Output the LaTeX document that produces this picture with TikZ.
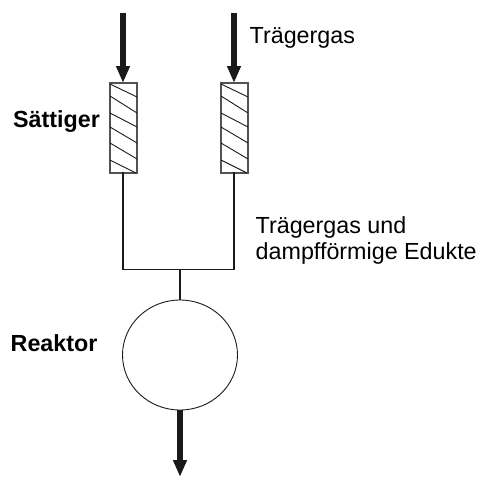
\documentclass[tikz,border=0pt]{standalone}
\usepackage{fontspec}
\setmainfont{Liberation Sans}
\usetikzlibrary{arrows.meta,shapes.geometric}
\definecolor{ink}{HTML}{1A1A1A}
\tikzset{
  x=1pt,y=-1pt,
  flow/.style={draw=ink,line width=5.5pt,-{Triangle[length=17pt,width=13pt,fill=ink]}},
  vessel/.style={draw=ink!75,line width=1.1pt,minimum width=27pt,minimum height=90pt,inner sep=0pt,outer sep=0pt},
  reactorshape/.style={ellipse,draw=ink,line width=0.9pt,minimum width=115pt,minimum height=110pt,inner sep=0pt,outer sep=0pt},
  hatch/.style={draw=ink,line width=0.9pt},
  pipe/.style={draw=ink,line width=1.5pt},
  lab/.style={anchor=base west,inner sep=0pt,font=\fontsize{23.3}{26}\selectfont},
  boldlab/.style={anchor=base west,inner sep=0pt,font=\fontsize{23.3}{26}\selectfont\bfseries}
}
\begin{document}
\begin{tikzpicture}
\useasboundingbox (0,0) rectangle (479,477);
\node[vessel] (s1) at (123.5,128) {};
\node[vessel] (s2) at (234.5,128) {};
\node[reactorshape] (r) at (180,355) {};
\coordinate (j1) at (123,269.5);
\coordinate (j2) at (234,269.5);
\coordinate (jm) at (180,269.5);
\coordinate (in1) at (123,13);
\coordinate (in2) at (234,13);
\coordinate (out) at (180,477);
\foreach \dx in {0,111}{
  \draw[hatch] (110+\dx,84) -- (137+\dx,97);
  \draw[hatch] (110+\dx,96) -- (137+\dx,113);
  \draw[hatch] (110+\dx,113) -- (137+\dx,127);
  \draw[hatch] (110+\dx,127) -- (137+\dx,143);
  \draw[hatch] (110+\dx,143) -- (137+\dx,159);
  \draw[hatch] (110+\dx,160) -- (136+\dx,173);
}
\draw[flow] (in1) -- (in1 |- s1.north);
\draw[flow] (in2) -- (in2 |- s2.north);
\draw[pipe,line cap=rect] (s1.south -| j1) -- (j1) -- (j2) -- (s2.south -| j2);
\draw[pipe] (jm) -- (r.north);
\draw[flow] (r.south) -- (out);
\node[lab] (t1) at (249.5,43) {Trägergas};
\node[lab] (t2) at (255.5,233) {Trägergas und};
\node[lab] (t2b) at (255.5,259) {dampfförmige Edukte};
\node[boldlab] (t3) at (13,127) {Sättiger};
\node[boldlab] (t4) at (10.5,351) {Reaktor};
\end{tikzpicture}
\end{document}
